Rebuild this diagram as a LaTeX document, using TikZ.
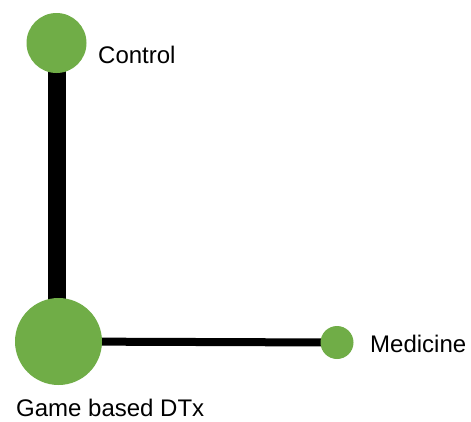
\documentclass[tikz,border=0pt]{standalone}
\usepackage{fontspec}
\setmainfont{Liberation Sans}
\usetikzlibrary{backgrounds}
\definecolor{nodegreen}{HTML}{70AD47}
\tikzset{
  trt/.style={circle, fill=nodegreen, draw=none, inner sep=0pt},
  lbl/.style={anchor=base west, inner sep=0pt, font=\fontsize{24}{28}\selectfont},
}

\begin{document}
\begin{tikzpicture}[x=1pt, y=-1pt]
        \useasboundingbox (0, 0) rectangle (471, 421);
        \node[trt, minimum size=60pt] (ctl) at (56.5, 43) {};
        \node[trt, minimum size=87pt] (game) at (58.5, 341.5) {};
        \node[trt, minimum size=33pt] (med) at (337, 342.5) {};
        \begin{scope}[on background layer]
        \draw[line width = 18pt] (ctl.center) -- (ctl.center |- game.center);
        \draw[line width = 8pt] (game.center) -- (med.center);
        \end{scope}
        \node[lbl] (ctllbl) at (98, 63) {Control};
        \node[lbl] (medlbl) at (370, 352) {Medicine};
        \node[lbl] (gamelbl) at (16, 416.5) {Game based DTx};
\end{tikzpicture}
\end{document}
